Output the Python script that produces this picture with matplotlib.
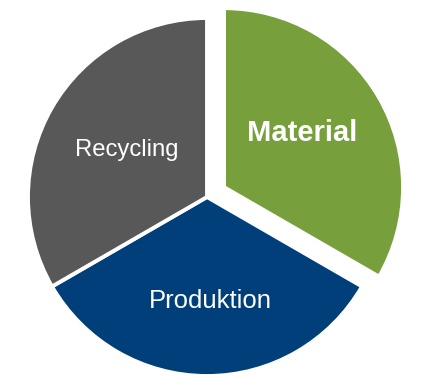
import matplotlib.pyplot as plt

plt.rcParams['font.family'] = ['Liberation Sans', 'DejaVu Sans']

# slice data
labels = ['Material', 'Produktion', 'Recycling']
shares = [1, 1, 1]
colors = ['#77A03D', '#003F7A', '#585858']
explode = [0.11, 0, 0]

fig = plt.figure(figsize=(4.21, 3.78), dpi=100)
ax = fig.add_axes([0, 0, 1, 1])

wedges, _ = ax.pie(shares, colors=colors, explode=explode, startangle=90,
                   counterclock=False, radius=1,
                   wedgeprops=dict(edgecolor='white', linewidth=2.8))

# pie centre sits at pixel (207, 181) with radius 179 px
r = 179.0
ax.set_xlim(-207 / r, (421 - 207) / r)
ax.set_ylim(-181 / r, (378 - 181) / r)
ax.set_aspect('equal')
ax.axis('off')

# labels
ax.text(0.53, 0.36, labels[0], color='white', fontsize=21,
        fontweight='bold', ha='center', va='center')
ax.text(0.02, -0.58, labels[1], color='white', fontsize=18.5,
        ha='center', va='center')
ax.text(-0.45, 0.26, labels[2], color='white', fontsize=17.2,
        ha='center', va='center')

fig.savefig('out.png', dpi=100)
